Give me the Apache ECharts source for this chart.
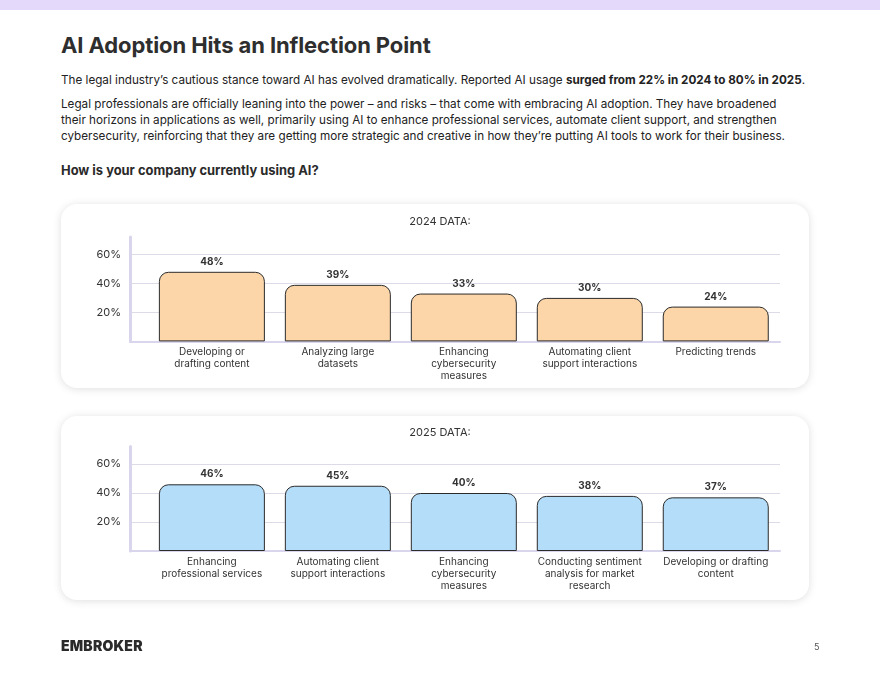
<!DOCTYPE html>
<html><head><meta charset="utf-8">
<script src="https://cdn.jsdelivr.net/npm/echarts@6/dist/echarts.min.js"></script>
<style>
html,body{margin:0;padding:0;background:#fff;}
body{width:880px;height:680px;position:relative;overflow:hidden;font-family:Inter,"Noto Sans",sans-serif;color:#222;}
.topbar{position:absolute;left:0;top:0;width:880px;height:10px;background:#e5d9fb;}
h1{position:absolute;left:61px;top:31px;margin:0;font-size:22px;line-height:28px;font-weight:700;color:#2e2e2e;letter-spacing:-0.1px;}
.p{position:absolute;left:61px;margin:0;font-size:11.7px;line-height:16px;color:#222;white-space:nowrap;}
.p1{top:72px;}
.p2{top:96px;}
.q{position:absolute;left:61px;top:163px;margin:0;font-size:12.9px;font-weight:700;color:#2a2a2a;}
.card{position:absolute;left:61px;width:748px;height:184px;background:#fff;border-radius:16px;box-shadow:0 1px 8px rgba(0,0,0,0.13);}
#chart{position:absolute;left:0;top:0;width:880px;height:680px;}
.logo{position:absolute;left:61px;top:637px;font-size:14px;font-weight:900;color:#2a2a2a;letter-spacing:0.2px;}
.pg{position:absolute;left:814px;top:641px;font-size:9px;color:#555;}
</style>
</head>
<body>
<div class="topbar"></div>
<h1>AI Adoption Hits an Inflection Point</h1>
<p class="p p1">The legal industry’s cautious stance toward AI has evolved dramatically. Reported AI usage <b>surged from 22% in 2024 to 80% in 2025</b>.</p>
<p class="p p2">Legal professionals are officially leaning into the power – and risks – that come with embracing AI adoption. They have broadened<br>their horizons in applications as well, primarily using AI to enhance professional services, automate client support, and strengthen<br>cybersecurity, reinforcing that they are getting more strategic and creative in how they’re putting AI tools to work for their business.</p>
<p class="q">How is your company currently using AI?</p>
<div class="card" style="top:204px"></div>
<div class="card" style="top:416px"></div>
<div id="chart"></div>
<div class="logo">EMBROKER</div>
<div class="pg">5</div>
<script>
const categories2024 = ["Developing or\ndrafting content", "Analyzing large\ndatasets", "Enhancing\ncybersecurity\nmeasures", "Automating client\nsupport interactions", "Predicting trends"];
const values2024 = [48, 39, 33, 30, 24];
const categories2025 = ["Enhancing\nprofessional services", "Automating client\nsupport interactions", "Enhancing\ncybersecurity\nmeasures", "Conducting sentiment\nanalysis for market\nresearch", "Developing or drafting\ncontent"];
const values2025 = [46, 45, 40, 38, 37];
const titles = ["2024 DATA:", "2025 DATA:"];
const yTicks = [20, 40, 60];

const chart = echarts.init(document.getElementById('chart'), null, {renderer: 'canvas'});
const gridTops = [237, 446.6];
const titleTops = [211, 422];
const cats = [categories2024, categories2025];
const vals = [values2024, values2025];
const colors = ['#fcd6a9', '#b3ddf8'];

const option = {
  animation: false,
  title: titles.map((t, i) => ({
    text: t, left: 'center', top: titleTops[i],
    textStyle: {fontSize: 11, fontWeight: 'normal', color: '#333', fontFamily: 'Inter'}
  })),
  grid: gridTops.map(t => ({left: 130, right: 100, top: t, height: 104.4, containLabel: false})),
  xAxis: cats.map((c, i) => ({
    type: 'value', gridIndex: i, min: -0.65, max: 4.51,
    axisLine: {show: true, onZero: false, lineStyle: {color: '#d9d5ec', width: 2}},
    axisTick: {show: false},
    splitLine: {show: false},
    axisLabel: {
      customValues: c.map((_, k) => k),
      formatter: v => c[Math.round(v)] || '',
      fontSize: 10, lineHeight: 12, color: '#333', margin: 5, fontFamily: 'Inter'
    }
  })),
  yAxis: cats.map((c, i) => ({
    type: 'value', gridIndex: i, min: 0, max: 72, interval: 20,
    axisLine: {show: true, onZero: false, lineStyle: {color: '#d9d5ec', width: 3}},
    axisTick: {show: false},
    axisLabel: {
      formatter: v => yTicks.includes(v) ? v + '%' : '',
      fontSize: 11, color: '#333', margin: 9, fontFamily: 'Inter'
    },
    splitLine: {show: true, showMaxLine: false, lineStyle: {color: '#dedbe9', width: 1}}
  })),
  series: vals.map((v, i) => ({
    type: 'bar', xAxisIndex: i, yAxisIndex: i,
    data: v.map((y, k) => [k, y]),
    barWidth: 106,
    itemStyle: {color: colors[i], borderColor: '#2b2b2b', borderWidth: 1, borderRadius: [9, 9, 0, 0]},
    label: {show: true, position: 'top', distance: 5, formatter: p => p.value[1] + '%',
      fontSize: 10, fontWeight: 'bold', color: '#333', fontFamily: 'Inter'}
  }))
};
chart.setOption(option);
</script>
</body></html>
